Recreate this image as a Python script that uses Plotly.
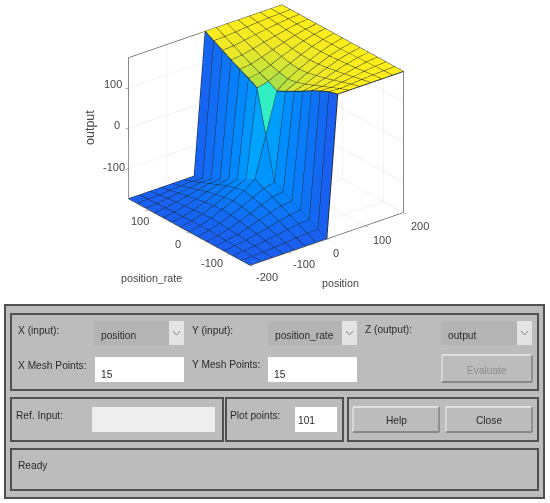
import plotly.graph_objects as go

# ---------- data ----------
position = [-200.0, -171.4, -142.9, -114.3, -85.7, -57.1, -28.6, 0.0, 28.6, 57.1, 85.7, 114.3, 142.9, 171.4, 200.0]
position_rate = [-150.0, -128.6, -107.1, -85.7, -64.3, -42.9, -21.4, 0.0, 21.4, 42.9, 64.3, 85.7, 107.1, 128.6, 150.0]
output = [  # one row per position value, one column per position_rate value
    [-175, -175, -175, -175, -175, -175, -175, -175, -175, -175, -175, -175, -175, -175, -175],
    [-175, -174, -173, -172, -171, -170, -169, -169, -169, -170, -171, -172, -173, -174, -175],
    [-175, -173, -170, -167, -165, -163, -161, -160, -161, -163, -165, -167, -170, -173, -175],
    [-175, -171, -166, -161, -157, -153, -150, -148, -150, -153, -157, -161, -166, -171, -175],
    [-175, -169, -162, -155, -148, -143, -138, -135, -138, -143, -148, -155, -162, -169, -175],
    [-175, -166, -157, -148, -139, -131, -125, -120, -124, -131, -140, -149, -158, -167, -175],
    [-175, -164, -153, -142, -131, -121, -112, -100, -111, -123, -135, -148, -159, -169, -175],
    [-175, -163, -151, -139, -128, -117, -105, 0, 105, 117, 128, 139, 151, 163, 175],
    [175, 169, 159, 148, 135, 123, 111, 100, 112, 121, 131, 142, 153, 164, 175],
    [175, 167, 158, 149, 140, 131, 124, 120, 125, 131, 139, 148, 157, 166, 175],
    [175, 169, 162, 155, 148, 143, 138, 135, 138, 143, 148, 155, 162, 169, 175],
    [175, 171, 166, 161, 157, 153, 150, 148, 150, 153, 157, 161, 166, 171, 175],
    [175, 173, 170, 167, 165, 163, 161, 160, 161, 163, 165, 167, 170, 173, 175],
    [175, 174, 173, 172, 171, 170, 169, 169, 169, 170, 171, 172, 173, 174, 175],
    [175, 175, 175, 175, 175, 175, 175, 175, 175, 175, 175, 175, 175, 175, 175],
]
x_ticks = [-200, -100, 0, 100, 200]
x_tick_labels = ["-200", "-100", "0", "100", "200"]
y_ticks = [-100, 0, 100]
y_tick_labels = ["-100", "0", "100"]
z_ticks = [-100, 0, 100]
z_tick_labels = ["-100", "0", "100"]
x_title = "position"
y_title = "position_rate"
z_title = "output"
x_input_label = "X (input):"
y_input_label = "Y (input):"
z_output_label = "Z (output):"
x_mesh_label = "X Mesh Points:"
y_mesh_label = "Y Mesh Points:"
x_mesh_value = "15"
y_mesh_value = "15"
ref_input_label = "Ref. Input:"
plot_points_label = "Plot points:"
plot_points_value = "101"
help_label = "Help"
close_label = "Close"
evaluate_label = "Evaluate"
status_text = "Ready"

# ---------- colour of one facet ----------
STOPS = [(0.0, (25, 95, 240)), (0.16, (0, 140, 255)), (0.24, (0, 175, 250)),
         (0.5, (50, 238, 195)), (0.78, (170, 225, 70)), (0.9, (238, 232, 40)), (1.0, (255, 238, 25))]
ZMIN, ZMAX = -175, 175


def colour(v):
    t = (v - ZMIN) / (ZMAX - ZMIN)
    for (a, ca), (b, cb) in zip(STOPS, STOPS[1:]):
        if t <= b:
            f = (t - a) / (b - a)
            return "rgb(%d,%d,%d)" % tuple(round(p + (q - p) * f) for p, q in zip(ca, cb))
    return "rgb(255,238,25)"


nx, ny = len(position), len(position_rate)
vx, vy, vz = [], [], []
for a in range(nx):
    for b in range(ny):
        vx.append(position[a]); vy.append(position_rate[b]); vz.append(output[a][b])
ti, tj, tk, fc = [], [], [], []
for a in range(nx - 1):
    for b in range(ny - 1):
        p00 = a * ny + b
        p01 = a * ny + b + 1
        p10 = (a + 1) * ny + b
        p11 = (a + 1) * ny + b + 1
        c = colour(output[a][b])
        ti += [p00, p11]; tj += [p10, p01]; tk += [p01, p10]; fc += [c, c]

lx, ly, lz = [], [], []
for a in range(nx):
    lx += [position[a]] * ny + [None]
    ly += position_rate + [None]
    lz += output[a] + [None]
for b in range(ny):
    lx += position + [None]
    ly += [position_rate[b]] * nx + [None]
    lz += [output[a][b] for a in range(nx)] + [None]

fig = go.Figure()
fig.add_trace(go.Mesh3d(x=vx, y=vy, z=vz, i=ti, j=tj, k=tk, facecolor=fc, flatshading=True,
                        lighting=dict(ambient=1, diffuse=0, specular=0, fresnel=0, roughness=1),
                        hoverinfo="skip", showscale=False))
fig.add_trace(go.Scatter3d(x=lx, y=ly, z=lz, mode="lines", line=dict(color="rgb(28,38,45)", width=1.8),
                           hoverinfo="skip", showlegend=False))

W, H = 550, 503
TICK_FONT = dict(family="Liberation Sans", size=11, color="rgb(70,70,70)")
axis_common = dict(showbackground=False, showgrid=True, gridcolor="rgb(228,228,228)", gridwidth=1,
                   showline=True, linecolor="rgb(95,95,95)", linewidth=1.5, mirror=True, zeroline=False,
                   ticks="outside", ticklen=4, tickcolor="rgb(95,95,95)", showspikes=False,
                   showticklabels=False, title=dict(text=""))

# tick labels sit beside the axis edges, positioned through the scene's own scales
tick_notes = []
for v, s, dx, dy in zip(x_ticks, x_tick_labels, [17, 16, 9, 17, 16], [12, 12, 14, 14, 13]):
    tick_notes.append(dict(x=v, y=-150, z=-175, text=s, showarrow=False, xanchor="center", yanchor="middle",
                           xshift=dx, yshift=-dy, font=TICK_FONT))
for v, s, dx, dy in zip(y_ticks, y_tick_labels, [-18, -11, -9], [9, 12, 11]):
    tick_notes.append(dict(x=-200, y=v, z=-175, text=s, showarrow=False, xanchor="center", yanchor="middle",
                           xshift=dx, yshift=-dy, font=TICK_FONT))
for v, s, dx, dy in zip(z_ticks, z_tick_labels, [-14, -11, -15], [-2, -3, -4]):
    tick_notes.append(dict(x=-200, y=150, z=v, text=s, showarrow=False, xanchor="center", yanchor="middle",
                           xshift=dx, yshift=-dy, font=TICK_FONT))

EYE = 1.6
CZ = -0.11
fig.update_layout(
    width=W, height=H, margin=dict(l=0, r=0, t=0, b=0), paper_bgcolor="white", showlegend=False,
    scene=dict(
        domain=dict(x=[0, 532 / W], y=[1 - 300 / H, 1]),
        aspectmode="manual", aspectratio=dict(x=1.305, y=1.305, z=1.044),
        camera=dict(projection=dict(type="orthographic"),
                    eye=dict(x=-0.56 * EYE, y=-0.706 * EYE, z=0.434 * EYE + CZ),
                    up=dict(x=0, y=0, z=1), center=dict(x=0, y=0, z=CZ)),
        xaxis=dict(axis_common, range=[-200, 200], tickvals=x_ticks),
        yaxis=dict(axis_common, range=[-150, 150], tickvals=y_ticks),
        zaxis=dict(axis_common, range=[-175, 175], tickvals=z_ticks),
        annotations=tick_notes,
    ),
)

# ---------- control panel below the plot ----------
shapes, notes = [], []
PANEL = "rgb(188,188,188)"
EDGE = "rgb(80,80,80)"
TEXT = "rgb(42,42,42)"


def px(x):
    return x / W


def py(y):
    return 1 - y / H


def box(x0, y0, x1, y1, fill=PANEL, line=EDGE, width=2):
    shapes.append(dict(type="rect", xref="paper", yref="paper", x0=px(x0), x1=px(x1), y0=py(y0), y1=py(y1),
                       fillcolor=fill, line=dict(color=line, width=width), layer="below"))


def seg(x0, y0, x1, y1, color, width=1.5):
    shapes.append(dict(type="line", xref="paper", yref="paper", x0=px(x0), x1=px(x1), y0=py(y0), y1=py(y1),
                       line=dict(color=color, width=width)))


def label(x, y, s, color=TEXT, anchor="left", size=10.2):
    notes.append(dict(xref="paper", yref="paper", x=px(x), y=py(y), text=s, showarrow=False, xanchor=anchor,
                      yanchor="middle", xshift=-1 if anchor == "left" else 0,
                      font=dict(family="Liberation Sans", size=size, color=color)))


def button(x0, y0, x1, y1):
    box(x0, y0, x1, y1, width=0, line=PANEL)
    seg(x0, y0, x1, y0, "rgb(235,235,235)")
    seg(x0, y0, x0, y1, "rgb(225,225,225)")
    seg(x0, y1, x1, y1, "rgb(120,120,120)")
    seg(x1, y0, x1, y1, "rgb(130,130,130)")


def dropdown(x0, y0, x1, y1, s):
    box(x0, y0, x1, y1, fill="rgb(180,180,180)", line="rgb(180,180,180)", width=0)
    box(x1 - 15, y0, x1, y1, fill="rgb(228,228,228)", line="rgb(228,228,228)", width=0)
    mx, my = x1 - 7.5, (y0 + y1) / 2
    seg(mx - 3.5, my - 2, mx, my + 2, "rgb(130,130,130)", 1)
    seg(mx, my + 2, mx + 3.5, my - 2, "rgb(130,130,130)", 1)
    label(x0 + 6, my + 2, s)


box(5, 305, 544, 498)
box(11, 314, 538, 390)
box(11, 398, 223, 441)
box(226, 398, 343, 441)
box(348, 398, 538, 441)
box(11, 449, 538, 490)

label(17, 330, x_input_label)
dropdown(94, 321, 184, 345, x_title)
label(191, 330, y_input_label)
dropdown(268, 321, 357, 345, y_title)
label(364, 329, z_output_label)
dropdown(441, 321, 532, 345, z_title)
label(17, 365, x_mesh_label)
box(95, 357, 184, 382, fill="white", line="white", width=0)
label(100, 374, x_mesh_value)
label(191, 364, y_mesh_label)
box(268, 357, 357, 382, fill="white", line="white", width=0)
label(273, 374, y_mesh_value)
button(442, 355, 532, 382)
label(487, 370, evaluate_label, color="rgb(140,140,140)", anchor="center")
label(15, 415, ref_input_label)
box(92, 407, 215, 432, fill="rgb(238,238,238)", line="rgb(238,238,238)", width=0)
label(229, 415, plot_points_label)
box(295, 407, 337, 432, fill="white", line="white", width=0)
label(297, 420, plot_points_value)
button(353, 407, 439, 432)
label(396, 420, help_label, anchor="center")
button(446, 407, 532, 432)
label(489, 420, close_label, anchor="center")
label(17, 465, status_text)

# axis names placed under and beside the box
label(120, 278, y_title, color="rgb(70,70,70)", size=10.7)
label(321, 283, x_title, color="rgb(70,70,70)", size=10.7)
notes.append(dict(xref="paper", yref="paper", x=px(90), y=py(128), text=z_title, showarrow=False, textangle=-90,
                  xanchor="center", yanchor="middle",
                  font=dict(family="Liberation Sans", size=12.5, color="rgb(70,70,70)")))

fig.update_layout(shapes=shapes, annotations=notes)
fig.write_html("out.html", config=dict(displayModeBar=False), post_script="document.body.style.margin='0';")
